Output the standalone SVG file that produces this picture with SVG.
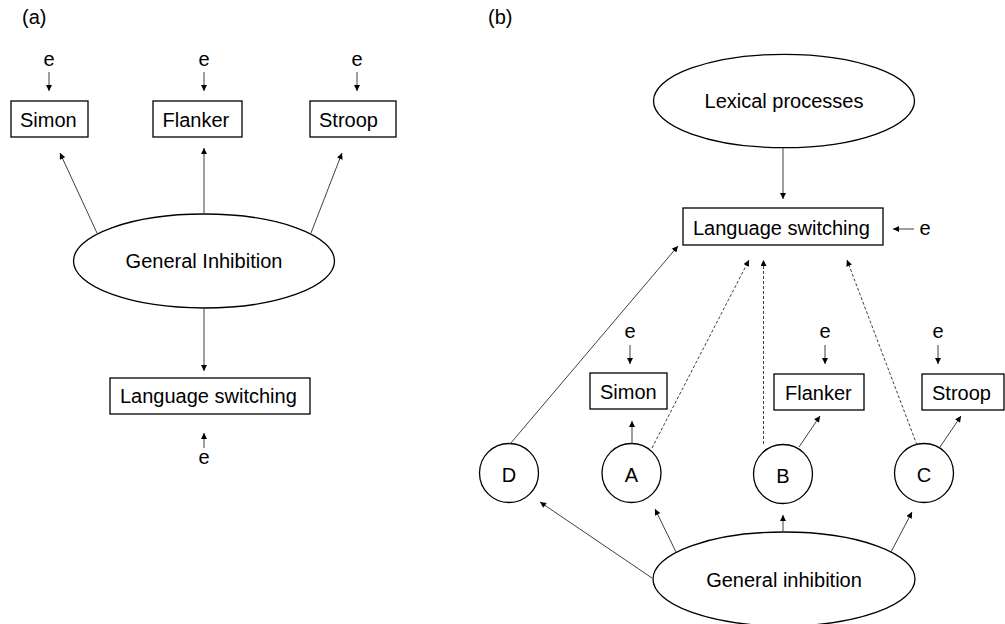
<svg xmlns="http://www.w3.org/2000/svg" width="1005" height="624" viewBox="0 0 1005 624">
  <style>
    text { font-family: "Liberation Sans", Arial, sans-serif; font-size: 20px; fill: #000; }
    .mid { text-anchor: middle; }
    .box { fill: #fff; stroke: #000; stroke-width: 1.3; }
    .oval { fill: #fff; stroke: #000; stroke-width: 1.3; }
    .link { fill: none; stroke: #404040; stroke-width: 1; marker-end: url(#ah); }
    .dash { stroke-dasharray: 3 2; }
  </style>
  <defs>
    <marker id="ah" viewBox="0 0 10 10" refX="10" refY="5" markerWidth="7" markerHeight="6" markerUnits="userSpaceOnUse" orient="auto">
      <path d="M0,0 L10,5 L0,10 z" fill="#000"/>
    </marker>
  </defs>
  <rect width="1005" height="624" fill="#fff"/>

  <!-- Panel (a): single-factor model -->
  <text x="22" y="24" font-size="18">(a)</text>

  <g id="a-simon">
    <rect class="box" x="11" y="101" width="77" height="36"/>
    <text x="20" y="127">Simon</text>
  </g>
  <g id="a-flanker">
    <rect class="box" x="153" y="101" width="89" height="36"/>
    <text x="162.5" y="127">Flanker</text>
  </g>
  <g id="a-stroop">
    <rect class="box" x="310" y="101" width="86" height="36"/>
    <text x="319" y="127">Stroop</text>
  </g>
  <g id="a-general-inhibition">
    <ellipse class="oval" cx="204" cy="261" rx="130.5" ry="47"/>
    <text class="mid" x="204" y="268">General Inhibition</text>
  </g>
  <g id="a-language-switching">
    <rect class="box" x="110" y="378" width="200" height="36"/>
    <text x="120" y="403">Language switching</text>
  </g>
  <g id="a-errors">
    <text class="mid" x="49" y="66">e</text>
    <text class="mid" x="204" y="66">e</text>
    <text class="mid" x="357" y="66">e</text>
    <text class="mid" x="204" y="464">e</text>
  </g>

  <!-- Panel (b): mediation model -->
  <text x="488" y="24" font-size="18">(b)</text>

  <g id="b-lexical">
    <ellipse class="oval" cx="784" cy="101" rx="130.5" ry="46.7"/>
    <text class="mid" x="784" y="108">Lexical processes</text>
  </g>
  <g id="b-language-switching">
    <rect class="box" x="683" y="208" width="200" height="37"/>
    <text x="693" y="235">Language switching</text>
  </g>
  <g id="b-simon">
    <rect class="box" x="590" y="373" width="77" height="36"/>
    <text x="600" y="399">Simon</text>
  </g>
  <g id="b-flanker">
    <rect class="box" x="774" y="374" width="90" height="36"/>
    <text x="785" y="400">Flanker</text>
  </g>
  <g id="b-stroop">
    <rect class="box" x="922" y="374" width="82" height="36"/>
    <text x="932" y="400">Stroop</text>
  </g>
  <g id="b-d">
    <circle class="oval" cx="509" cy="473" r="29.5"/>
    <text class="mid" x="509" y="482">D</text>
  </g>
  <g id="b-a">
    <circle class="oval" cx="631.5" cy="473" r="29.5"/>
    <text class="mid" x="631.5" y="482">A</text>
  </g>
  <g id="b-b">
    <circle class="oval" cx="783" cy="474" r="29.5"/>
    <text class="mid" x="783" y="483">B</text>
  </g>
  <g id="b-c">
    <circle class="oval" cx="924" cy="473" r="29.5"/>
    <text class="mid" x="924" y="482">C</text>
  </g>
  <g id="b-general-inhibition">
    <ellipse class="oval" cx="784" cy="579" rx="131" ry="47"/>
    <text class="mid" x="784" y="587">General inhibition</text>
  </g>
  <g id="b-errors">
    <text class="mid" x="925" y="235">e</text>
    <text class="mid" x="630" y="338">e</text>
    <text class="mid" x="825" y="338">e</text>
    <text class="mid" x="938" y="338">e</text>
  </g>

  <g id="connectors">
    <!-- (a) -->
    <line class="link" x1="49" y1="72" x2="49" y2="91"/>
    <line class="link" x1="204" y1="72" x2="204" y2="91"/>
    <line class="link" x1="357" y1="72" x2="357" y2="91"/>
    <line class="link" x1="97" y1="233" x2="60" y2="153"/>
    <line class="link" x1="204" y1="214" x2="204" y2="148"/>
    <line class="link" x1="311" y1="233" x2="342" y2="153"/>
    <line class="link" x1="204" y1="308" x2="204" y2="371"/>
    <line class="link" x1="204" y1="448" x2="204" y2="433"/>
    <!-- (b) -->
    <line class="link" x1="783" y1="148" x2="783" y2="199"/>
    <line class="link" x1="914" y1="229" x2="893" y2="229"/>
    <line class="link" x1="630" y1="345" x2="630" y2="364"/>
    <line class="link" x1="825" y1="345" x2="825" y2="364"/>
    <line class="link" x1="938" y1="345" x2="938" y2="364"/>
    <line class="link" x1="510" y1="444" x2="678" y2="246"/>
    <line class="link dash" x1="652" y1="448" x2="749" y2="260"/>
    <line class="link dash" x1="763.5" y1="444" x2="763.5" y2="260"/>
    <line class="link dash" x1="917" y1="445" x2="847" y2="260"/>
    <line class="link" x1="632" y1="444" x2="632" y2="421"/>
    <line class="link" x1="799" y1="447" x2="820" y2="416"/>
    <line class="link" x1="940" y1="447" x2="961" y2="416"/>
    <line class="link" x1="652" y1="578" x2="540" y2="502"/>
    <line class="link" x1="676" y1="552" x2="655" y2="509"/>
    <line class="link" x1="783" y1="532" x2="783" y2="515"/>
    <line class="link" x1="891" y1="552" x2="912" y2="512"/>
  </g>
</svg>
